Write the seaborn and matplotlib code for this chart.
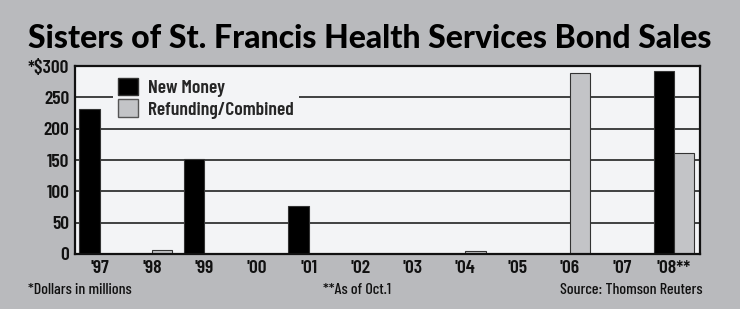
import matplotlib
matplotlib.use("Agg")
import matplotlib.pyplot as plt
import seaborn as sns
import pandas as pd
from matplotlib import font_manager
from matplotlib.patches import Patch

years = ["'97", "'98", "'99", "'00", "'01", "'02", "'03", "'04", "'05", "'06", "'07", "'08**"]
new_money = [231, 0, 151, 0, 76, 0, 0, 0, 0, 0, 0, 293]
refunding = [0, 6, 0, 0, 0, 0, 0, 5, 0, 289, 0, 162]
series = ["New Money", "Refunding/Combined"]
yticks = [0, 50, 100, 150, 200, 250, 300]
ytick_labels = ["0", "50", "100", "150", "200", "250", "*$300"]

df = pd.DataFrame({
    "year": years * 2,
    "value": new_money + refunding,
    "series": [series[0]] * len(years) + [series[1]] * len(years),
})

names = {f.name for f in font_manager.fontManager.ttflist}
def pick(cands):
    for c in cands:
        if c in names:
            return c
    return "DejaVu Sans"

narrow = pick(["Barlow Condensed", "Archivo Narrow", "Asap Condensed", "PT Sans Narrow", "Liberation Sans Narrow"])
title_font = pick(["Lato", "Open Sans", "Noto Sans"])

sns.set_theme(style="white")
plt.rcParams["font.family"] = [narrow, "DejaVu Sans"]

BG = "#b9babd"
PLOT_BG = "#f3f4f6"
GREY_BAR = "#c3c4c7"

fig = plt.figure(figsize=(7.4, 3.09), dpi=100, facecolor=BG)
ax = fig.add_axes([0.101, 0.178, 0.845, 0.608])
ax.set_facecolor(PLOT_BG)

sns.barplot(data=df, x="year", y="value", hue="series", order=years,
            hue_order=series, palette=["#000000", GREY_BAR], width=0.78,
            edgecolor="#333333", linewidth=0.8, ax=ax, legend=False)

ax.set_xlim(-0.48, 11.5)
ax.set_ylim(0, 300)
ax.set_yticks(yticks)
ax.set_yticklabels(ytick_labels)
ax.set_xlabel("")
ax.set_ylabel("")
ax.set_axisbelow(True)
for y in yticks[1:-1]:
    ax.axhline(y, color="#222222", lw=1.2, zorder=0.5)
for s in ax.spines.values():
    s.set_color("#111111")
    s.set_linewidth(1.6)
ax.tick_params(axis="both", length=0, labelsize=14, colors="#111111", pad=4)
for lab in ax.get_xticklabels() + ax.get_yticklabels():
    lab.set_fontweight(600)

handles = [Patch(facecolor="#000000", edgecolor="#333333"),
           Patch(facecolor=GREY_BAR, edgecolor="#555555")]
leg = ax.legend(handles, series, loc="upper left", bbox_to_anchor=(0.045, 1.02),
                frameon=True, facecolor=PLOT_BG, edgecolor=PLOT_BG, framealpha=1,
                handlelength=1.0, handleheight=1.0, handletextpad=0.5,
                labelspacing=0.1, borderpad=0.3, prop={"size": 14, "weight": 600})
leg.get_frame().set_linewidth(0)
leg.set_zorder(5)

fig.text(0.5, 0.877, "Sisters of St. Francis Health Services Bond Sales",
         ha="center", va="center", fontsize=23, fontweight="black",
         family=[title_font, "DejaVu Sans"], color="#000000")
fig.text(0.038, 0.062, "*Dollars in millions", ha="left", va="center", fontsize=11.5, color="#111111", fontweight=500)
fig.text(0.436, 0.062, "**As of Oct.1", ha="left", va="center", fontsize=11.5, color="#111111", fontweight=500)
fig.text(0.95, 0.062, "Source: Thomson Reuters", ha="right", va="center", fontsize=11.5, color="#111111", fontweight=500)

fig.savefig("out.png", dpi=100, facecolor=BG)
